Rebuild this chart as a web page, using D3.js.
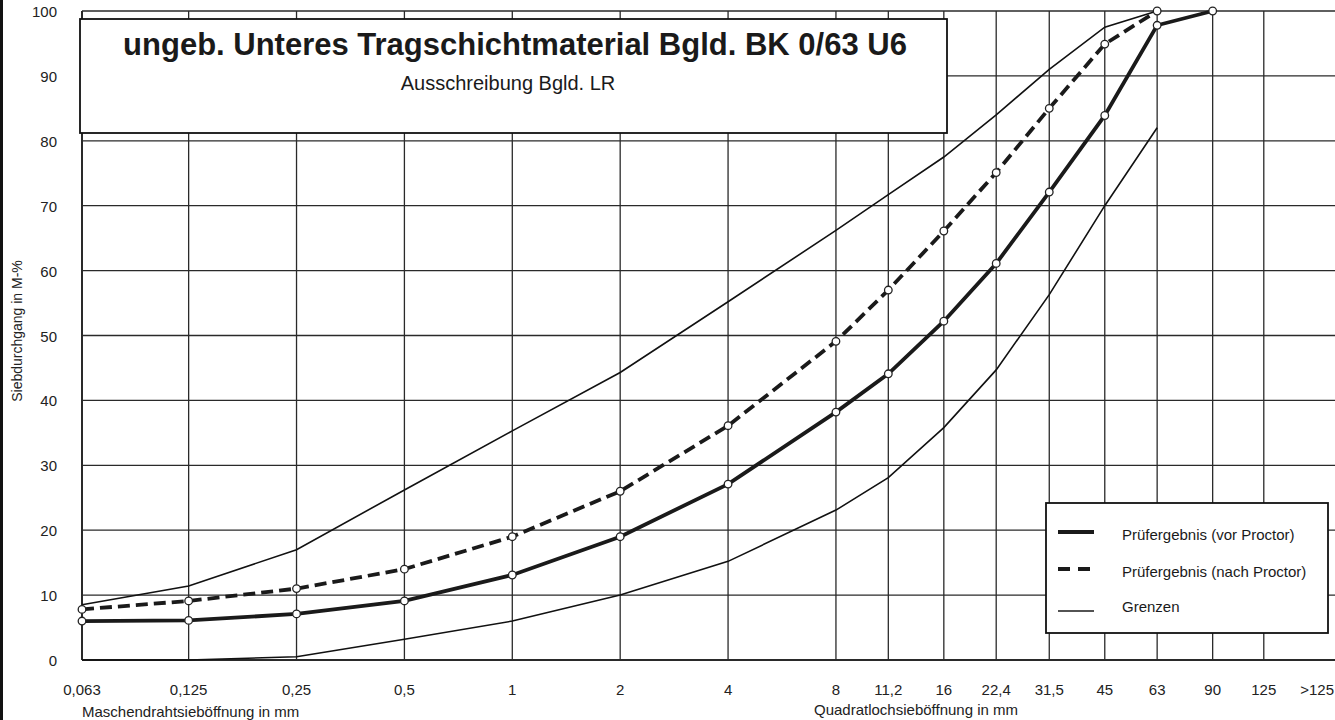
<!DOCTYPE html>
<html>
<head>
<meta charset="utf-8">
<script src="https://cdn.jsdelivr.net/npm/d3@7"></script>
<style>
  body { margin: 0; background: #fff; }
  svg { display: block; font-family: "Liberation Sans", Arial, sans-serif; }
</style>
</head>
<body>
<script>
// sieve openings in mm and the labels printed under them
const sieves = [0.063, 0.125, 0.25, 0.5, 1, 2, 4, 8, 11.2, 16, 22.4, 31.5, 45, 63, 90, 125]
const sieveLabels = ["0,063", "0,125", "0,25", "0,5", "1", "2", "4", "8", "11,2", "16", "22,4", "31,5", "45", "63", "90", "125"]
const yTicks = [0, 10, 20, 30, 40, 50, 60, 70, 80, 90, 100]

// passing in M-%, one value per sieve from 0,063 upwards
const vorProctor = [6, 6.1, 7.1, 9.1, 13.1, 19, 27.1, 38.2, 44.1, 52.2, 61.1, 72.1, 83.9, 97.8, 100]
const nachProctor = [7.8, 9.1, 11, 14, 19, 26, 36.1, 49.1, 57, 66.1, 75.1, 85, 94.9, 100]
const upperLimit = [8.5, 11.4, 17, 26.2, 35.3, 44.3, 55.2, 66.2, 71.7, 77.5, 84, 91, 97.5, 100]
const lowerLimit = [0, 0, 0.5, 3.2, 6, 10, 15.2, 23.1, 28.1, 35.8, 44.7, 56.3, 70, 82]

const width = 1335,
      height = 720
const plot = {left: 82, right: 1333, top: 11, bottom: 660}

const svg = d3.select("body")
  .append("svg")
  .attr("width", width)
  .attr("height", height)

svg.append("rect")
  .attr("width", width)
  .attr("height", height)
  .attr("fill", "#fff")

// page border on the far left
svg.append("rect")
  .attr("x", 0).attr("y", 0)
  .attr("width", 3).attr("height", height)
  .attr("fill", "#111")

// log scale for sieve openings, last column holds ">125"
const x = d3.scaleLog().base(2)
  .domain([0.063, 195])
  .range([plot.left, plot.right])

const y = d3.scaleLinear()
  .domain([0, 100])
  .range([plot.bottom, plot.top])

// grid
const grid = svg.append("g").attr("id", "grid")
grid.selectAll("line.h")
  .data(yTicks)
  .enter()
  .append("line")
  .attr("class", "h")
  .attr("x1", plot.left)
  .attr("x2", width)
  .attr("y1", d => y(d))
  .attr("y2", d => y(d))
  .attr("stroke", "#2a2a2a")
  .attr("stroke-width", d => d == 0 ? 2.2 : 1.3)
grid.selectAll("line.v")
  .data(sieves)
  .enter()
  .append("line")
  .attr("class", "v")
  .attr("x1", d => x(d))
  .attr("x2", d => x(d))
  .attr("y1", y(0))
  .attr("y2", y(100))
  .attr("stroke", "#2a2a2a")
  .attr("stroke-width", (d, i) => i == 0 ? 2 : 1.3)

// axis labels
svg.append("g")
  .selectAll("text")
  .data(yTicks)
  .enter()
  .append("text")
  .text(d => d)
  .attr("x", 57)
  .attr("y", d => y(d) + 6)
  .attr("text-anchor", "end")
  .style("font-size", "15px")
  .attr("fill", "#222")

const xl = svg.append("g")
xl.selectAll("text")
  .data(sieves)
  .enter()
  .append("text")
  .text((d, i) => sieveLabels[i])
  .attr("x", d => x(d))
  .attr("y", 695)
  .attr("text-anchor", "middle")
  .style("font-size", "15px")
  .attr("fill", "#222")
// ">125" sits in the last column, kept inside the page edge
xl.append("text")
  .text(">125")
  .attr("x", width - 1)
  .attr("y", 695)
  .attr("text-anchor", "end")
  .style("font-size", "15px")
  .attr("fill", "#222")

svg.append("text")
  .text("Maschendrahtsieböffnung in mm")
  .attr("x", plot.left)
  .attr("y", 717)
  .style("font-size", "15px")
  .attr("fill", "#222")
svg.append("text")
  .text("Quadratlochsieböffnung in mm")
  .attr("x", 814)
  .attr("y", 715)
  .style("font-size", "15px")
  .attr("fill", "#222")
svg.append("text")
  .text("Siebdurchgang in M-%")
  .attr("transform", "translate(22, 331) rotate(-90)")
  .attr("text-anchor", "middle")
  .style("font-size", "14px")
  .attr("fill", "#222")

// curves
const line = d3.line()
  .x(d => x(d[0]))
  .y(d => y(d[1]))
const pairs = vals => vals.map((v, i) => [sieves[i], v])

const curves = svg.append("g").attr("id", "curves")
curves.append("path")
  .attr("d", line(pairs(upperLimit)))
  .attr("fill", "none").attr("stroke", "#111").attr("stroke-width", 1.6)
curves.append("path")
  .attr("d", line(pairs(lowerLimit)))
  .attr("fill", "none").attr("stroke", "#111").attr("stroke-width", 1.6)
curves.append("path")
  .attr("d", line(pairs(nachProctor)))
  .attr("fill", "none").attr("stroke", "#1a1a1a").attr("stroke-width", 3.8)
  .attr("stroke-dasharray", "12,6")
curves.append("path")
  .attr("d", line(pairs(vorProctor)))
  .attr("fill", "none").attr("stroke", "#1a1a1a").attr("stroke-width", 3.8)

for (const vals of [nachProctor, vorProctor]) {
  curves.append("g")
    .selectAll("circle")
    .data(pairs(vals))
    .enter()
    .append("circle")
    .attr("cx", d => x(d[0]))
    .attr("cy", d => y(d[1]))
    .attr("r", 3.8)
    .attr("fill", "#fff")
    .attr("stroke", "#222")
    .attr("stroke-width", 1.3)
}

// title box
const tb = svg.append("g").attr("id", "title")
tb.append("rect")
  .attr("x", 80).attr("y", 19)
  .attr("width", 867).attr("height", 114)
  .attr("fill", "#fff")
  .attr("stroke", "#111")
  .attr("stroke-width", 1.8)
tb.append("text")
  .text("ungeb. Unteres Tragschichtmaterial Bgld. BK 0/63 U6")
  .attr("x", 515)
  .attr("y", 55)
  .attr("text-anchor", "middle")
  .style("font-size", "31px")
  .style("font-weight", "bold")
  .attr("fill", "#1a1a1a")
tb.append("text")
  .text("Ausschreibung Bgld. LR")
  .attr("x", 508)
  .attr("y", 90)
  .attr("text-anchor", "middle")
  .style("font-size", "20px")
  .attr("fill", "#1a1a1a")

// legend
const legendItems = [
  {label: "Prüfergebnis (vor Proctor)", width: 3.8, dash: null},
  {label: "Prüfergebnis (nach Proctor)", width: 3.8, dash: "12,8"},
  {label: "Grenzen", width: 1.6, dash: null}
]
const lg = svg.append("g").attr("id", "legend")
lg.append("rect")
  .attr("x", 1046).attr("y", 503)
  .attr("width", 282).attr("height", 130)
  .attr("fill", "#fff")
  .attr("stroke", "#111")
  .attr("stroke-width", 1.8)
const entries = lg.selectAll("g.item")
  .data(legendItems)
  .enter()
  .append("g")
  .attr("transform", (d, i) => `translate(0, ${532 + i * 37})`)
entries.append("line")
  .attr("x1", 1058).attr("x2", 1094)
  .attr("y1", (d, i) => i == 2 ? 5 : 0)
  .attr("y2", (d, i) => i == 2 ? 5 : 0)
  .attr("stroke", "#1a1a1a")
  .attr("stroke-width", d => d.width)
  .attr("stroke-dasharray", d => d.dash)
entries.append("text")
  .text(d => d.label)
  .attr("x", 1122)
  .attr("y", (d, i) => i == 2 ? 6 : 8)
  .style("font-size", "15px")
  .attr("fill", "#1a1a1a")
</script>
</body>
</html>
